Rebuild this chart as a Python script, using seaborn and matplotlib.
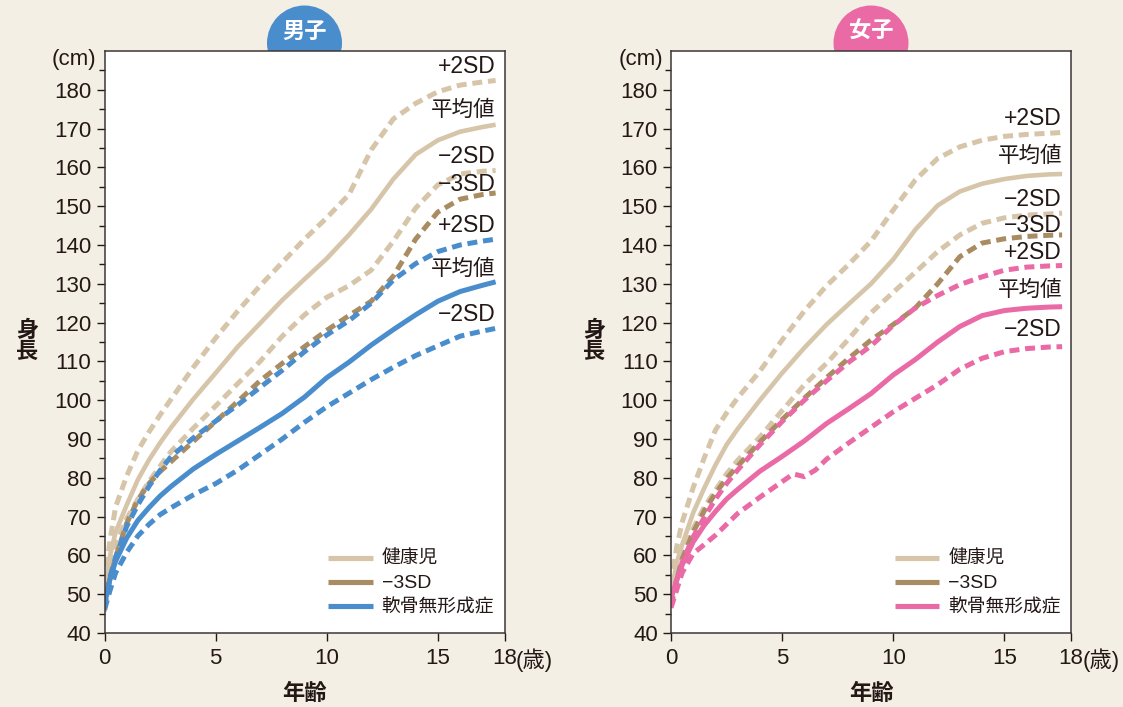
import matplotlib
matplotlib.use("Agg")
import matplotlib.pyplot as plt
import seaborn as sns
from matplotlib.patches import Ellipse

# ---------------- data ----------------
AGES = [0, 0.25, 0.5, 1, 1.5, 2, 2.5, 3, 4, 5, 6, 7, 8, 9, 10, 11, 12, 13, 14, 15, 16, 17, 17.6]

# Boys – healthy children
B_HEALTHY_P2 = [53, 64, 72.5, 80.5, 87, 91.8, 96.2, 100.3, 108.5, 116, 123, 129.5, 135.5, 141.5, 147, 153, 164.5, 172.5, 176.5, 179.5, 181.2, 182, 182.4]
B_HEALTHY_MEAN = [50, 60, 66, 73, 79.5, 84.6, 89, 93, 100.3, 107, 113.8, 119.8, 125.8, 131.2, 136.5, 142.6, 149.2, 157, 163.3, 167, 169.2, 170.4, 171]
B_HEALTHY_M2 = [45.5, 55.5, 63, 69.5, 74.5, 79, 83, 86.8, 92.8, 98.5, 104.3, 110, 116.5, 122, 126.5, 129.5, 133.5, 141, 149.5, 155.5, 158.3, 159, 159.2]
B_HEALTHY_M3 = [48, 54, 59.5, 68.3, 74.3, 78.5, 81.6, 84.2, 89.4, 94.5, 99.7, 105, 109.5, 113.8, 118, 121.8, 125.5, 132, 141.5, 148.5, 151.8, 153, 153.4]
# Boys – achondroplasia
B_ACH_P2 = [46.5, 54.5, 59.5, 67.5, 73, 77.8, 81.9, 85.5, 90.3, 94.6, 98.8, 103.3, 107.7, 112.5, 116.8, 120.5, 125, 131, 135.2, 138.3, 140, 141, 141.5]
B_ACH_MEAN = [47.5, 54, 58.5, 64.5, 69, 72.3, 75.3, 77.8, 82.3, 86, 89.5, 93, 96.6, 100.8, 105.8, 109.8, 114.2, 118.2, 122, 125.5, 128, 129.6, 130.5]
B_ACH_M2 = [46, 51, 55.5, 60.8, 65, 68, 70.5, 72.3, 75.6, 78.5, 82, 86, 90, 94.3, 98.3, 101.8, 105.3, 108.5, 111.5, 114, 116.5, 117.8, 118.5]

# Girls – healthy children
G_HEALTHY_P2 = [52.5, 62, 68.5, 77.5, 85.2, 92.3, 96.7, 100.6, 107.5, 115.5, 123, 129.5, 135, 141, 149, 156.8, 162.3, 165.3, 167, 168, 168.5, 168.8, 169]
G_HEALTHY_MEAN = [49.5, 58, 62.7, 71, 77.4, 83.3, 88.5, 92.6, 100, 107, 113.5, 119.5, 124.8, 130, 136.3, 144, 150.2, 153.8, 155.8, 157, 157.8, 158.2, 158.3]
G_HEALTHY_M2 = [47, 55, 60, 67, 72.5, 76.8, 81, 84.5, 90.5, 97.3, 104, 109.5, 115.8, 122.5, 127.8, 133, 138.3, 142.6, 145.6, 147, 147.7, 148, 148.2]
G_HEALTHY_M3 = [47, 53.5, 59, 66, 71.5, 76, 79.8, 83, 89.2, 95, 100.5, 105.8, 110.8, 115.5, 119.5, 123.8, 130, 137, 140.5, 141.6, 142.2, 142.5, 142.6]
# Girls – achondroplasia
G_ACH_P2 = [49, 53.5, 58.2, 64.8, 69.8, 74.5, 78.5, 82, 88.5, 94.5, 100, 105, 109.8, 114, 119.3, 123.8, 127, 129.8, 131.8, 133.5, 134.3, 134.6, 134.7]
G_ACH_MEAN = [49, 53.5, 57.5, 63.5, 67.8, 71.3, 74.5, 77, 81.7, 85.5, 89.5, 94, 97.8, 101.7, 106.5, 110.5, 115, 119, 121.8, 123.1, 123.7, 124, 124.1]
G_AGES_M2 = [0, 0.25, 0.5, 1, 1.5, 2, 2.5, 3, 4, 5, 5.5, 6, 6.5, 7, 8, 9, 10, 11, 12, 13, 14, 15, 16, 17, 17.6]
G_ACH_M2 = [46.5, 51, 55.5, 60.5, 62.8, 65.2, 68, 70.8, 75, 79, 81, 80.3, 82, 84.8, 89, 93, 97, 100.5, 104, 108, 110.8, 112.5, 113.3, 113.7, 113.8]

X_TICKS = [0, 5, 10, 15, 18]
Y_TICKS = list(range(40, 181, 10))
LEGEND_LABELS = ["健康児", "−3SD", "軟骨無形成症"]
BOYS_CURVE_LABELS = [("+2SD", 186.1), ("平均値", 174.8), ("−2SD", 162.8), ("−3SD", 155.7),
                     ("+2SD", 144.9), ("平均値", 133.7), ("−2SD", 122.0)]
GIRLS_CURVE_LABELS = [("+2SD", 172.7), ("平均値", 162.8), ("−2SD", 151.6), ("−3SD", 144.9),
                      ("+2SD", 138.1), ("平均値", 128.4), ("−2SD", 118.1)]

# ---------------- style ----------------
BG = "#f4efe5"
INK = "#231815"
TAN = "#d6c5a9"
DARK_TAN = "#a98c62"
BLUE = "#4a8dcd"
PINK = "#ea6aa6"

sns.set_style("ticks")
plt.rcParams["font.family"] = ["Liberation Sans", "Noto Sans CJK JP"]
plt.rcParams["axes.unicode_minus"] = True

W, H = 1123, 707
fig = plt.figure(figsize=(W / 100, H / 100), dpi=100, facecolor=BG)


def rect(l, t, r, b):
    return [l / W, 1 - b / H, (r - l) / W, (b - t) / H]


DASH = (0, (2.0, 1.15))
LW_SOLID = 3.3
LW_DASH = 3.6


def draw(ax, ages, vals, color, dashed, lw=None):
    sns.lineplot(x=ages, y=vals, ax=ax, color=color, estimator=None, sort=False,
                 legend=False, linewidth=lw or (LW_DASH if dashed else LW_SOLID))
    line = ax.lines[-1]
    if dashed:
        line.set_linestyle(DASH)
        line.set_dash_capstyle("butt")
    else:
        line.set_solid_capstyle("butt")
        line.set_solid_joinstyle("round")


def setup(ax, left_px, badge_text, badge_color, ach_color, curve_labels):
    ax.set_facecolor("white")
    ax.set_xlim(0, 18)
    ax.set_ylim(40, 190)
    ax.set_xticks(X_TICKS)
    ax.set_xticklabels([str(t) for t in X_TICKS])
    ax.set_yticks(Y_TICKS)
    ax.set_yticks(list(range(45, 190, 10)), minor=True)
    ax.tick_params(axis="both", which="major", direction="out", length=5.5, width=1.0,
                   color=INK, labelcolor=INK, labelsize=16)
    ax.tick_params(axis="y", which="minor", direction="out", length=4.5, width=1.0, color=INK)
    ax.tick_params(axis="x", which="major", pad=5)
    ax.tick_params(axis="y", which="major", pad=4)
    for sp in ax.spines.values():
        sp.set_visible(True)
        sp.set_color("#3d3735")
        sp.set_linewidth(1.1)
    ax.set_xlabel("")
    ax.set_ylabel("")

    for text, y in curve_labels:
        size = 16.5 if "SD" in text else 15.5
        ax.text(17.6, y, text, ha="right", va="center", fontsize=size, color=INK)

    # legend drawn as line samples + labels (rows at 557.7 / 581.7 / 605.7 px)
    leg_colors = [TAN, DARK_TAN, ach_color]
    for i, (lab, col) in enumerate(zip(LEGEND_LABELS, leg_colors)):
        yf = (633 - (557.7 + 24 * i)) / 582
        ax.plot([0.5595, 0.6705], [yf, yf], transform=ax.transAxes, color=col, lw=3.7,
                solid_capstyle="butt")
        size = 14 if "SD" in lab else 13.5
        ax.text(0.693, yf, lab, transform=ax.transAxes, ha="left", va="center_baseline",
                fontsize=size, color=INK)

    cx = left_px + 200
    fig.add_artist(Ellipse((cx / W, 1 - 43 / H), 75 / W, 75 / H, transform=fig.transFigure,
                           facecolor=badge_color, edgecolor="none", zorder=-1))
    fig.text(cx / W, 1 - 32.5 / H, badge_text, ha="center", va="center", fontsize=16,
             fontweight="bold", color="white")
    fig.text((left_px - 8) / W, 1 - 60 / H, "(cm)", ha="right", va="center", fontsize=16, color=INK)
    fig.text((left_px + 411.5) / W, 1 - 660 / H, "(歳)", ha="left", va="center", fontsize=16, color=INK)
    fig.text((left_px - 77) / W, 1 - 342 / H, "身\n長", ha="center", va="center", fontsize=16,
             fontweight="bold", color=INK, linespacing=1.0)
    fig.text(cx / W, 1 - 694 / H, "年齢", ha="center", va="center", fontsize=16,
             fontweight="bold", color=INK)


ax_b = fig.add_axes(rect(104.5, 51, 504.5, 633))
ax_g = fig.add_axes(rect(671, 51, 1071, 633))

# boys
draw(ax_b, AGES, B_HEALTHY_P2, TAN, True)
draw(ax_b, AGES, B_HEALTHY_M2, TAN, True)
draw(ax_b, AGES, B_HEALTHY_MEAN, TAN, False)
draw(ax_b, AGES, B_HEALTHY_M3, DARK_TAN, True)
draw(ax_b, AGES, B_ACH_P2, BLUE, True)
draw(ax_b, AGES, B_ACH_M2, BLUE, True)
draw(ax_b, AGES, B_ACH_MEAN, BLUE, False, lw=3.6)
setup(ax_b, 104.5, "男子", BLUE, BLUE, BOYS_CURVE_LABELS)

# girls
draw(ax_g, AGES, G_HEALTHY_P2, TAN, True)
draw(ax_g, AGES, G_HEALTHY_M2, TAN, True)
draw(ax_g, AGES, G_HEALTHY_MEAN, TAN, False)
draw(ax_g, AGES, G_HEALTHY_M3, DARK_TAN, True)
draw(ax_g, AGES, G_ACH_P2, PINK, True)
draw(ax_g, G_AGES_M2, G_ACH_M2, PINK, True)
draw(ax_g, AGES, G_ACH_MEAN, PINK, False, lw=3.6)
setup(ax_g, 671, "女子", PINK, PINK, GIRLS_CURVE_LABELS)

fig.savefig("out.png", dpi=100, facecolor=BG)
